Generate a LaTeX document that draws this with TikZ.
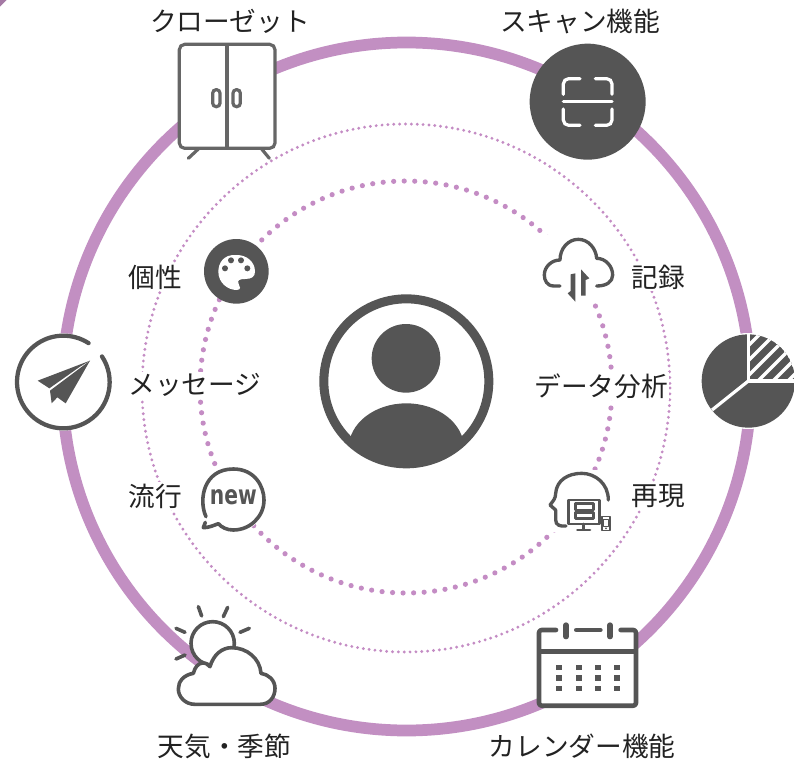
\documentclass[tikz,border=0pt]{standalone}
\usepackage{fontspec}
\setmainfont{Noto Sans CJK JP}
\newfontfamily\latinbold{DejaVu Sans}
\definecolor{ringc}{HTML}{C28FC2}
\definecolor{dotc}{HTML}{C48CC4}
\definecolor{iconc}{HTML}{555555}
\definecolor{closetc}{HTML}{666666}
\definecolor{textc}{HTML}{222222}
\tikzset{
 zoomed/.style 2 args={shift={(#1,#2)},x=0.25pt,y=-0.25pt},
 lbl/.style={text=textc,font=\fontsize{20}{24}\selectfont,inner sep=0pt},
 lblw/.style={lbl,fill=white,inner sep=1pt},
 ic/.style={draw=iconc,line cap=round,line join=round},
}
\begin{document}
\begin{tikzpicture}[x=0.75pt,y=-0.75pt]
\useasboundingbox (0,0) rectangle (794,764);
\clip (0,0) rectangle (794,764);
\fill[ringc!85!black] (0,0) -- (6.5,0) -- (0,6.5) -- cycle;
% rings
\draw[ringc,line width=8.8pt] (406.5,386.5) circle (344);
\draw[dotc,line width=2.4pt,line cap=round,dash pattern=on 0pt off 4.4pt] (406,388) circle (264);
\draw[dotc,line width=3.9pt,line cap=round,dash pattern=on 0pt off 7.9pt] (406,387) circle (206);
% labels
\node[lbl] (closetl) at (230,21) {クローゼット};
\node[lbl] (scanl) at (580,21) {スキャン機能};
\node[lblw] (kosei) at (155,277) {個性};
\node[lblw] (kiroku) at (658,277) {記録};
\node[lblw] (msg) at (195,385) {メッセージ};
\node[lblw] (data) at (601,386) {データ分析};
\node[lblw] (ryuko) at (155,496) {流行};
\node[lblw] (saigen) at (658,496) {再現};
\node[lbl] (tenki) at (224.5,746) {天気・季節};
\node[lbl] (cal) at (582,746) {カレンダー機能};
% person
\begin{scope}[zoomed={310}{285}]
 \fill[white] (289,289) circle (261);
 \begin{scope}
  \clip (289,289) circle (255);
  \fill[iconc] (289,490) ellipse (173 and 135);
 \end{scope}
 \draw[iconc,line width=6.75pt] (289,289) circle (247.5);
 \fill[iconc] (288,220) circle (103);
\end{scope}
% closet
\begin{scope}[zoomed={160}{0}]
 \draw[closetc,line width=2.4pt,rounded corners=4pt,fill=white] (58,133) rectangle (345,445);
 \draw[closetc,line width=2.4pt] (201,133) -- (201,445);
 \draw[closetc,line width=2.4pt,rounded corners=2.6pt] (158,269) rectangle (180,320);
 \draw[closetc,line width=2.4pt,rounded corners=2.6pt] (219,269) rectangle (241,320);
 \draw[closetc,line width=2.4pt,line cap=round] (115,447) -- (85,475);
 \draw[closetc,line width=2.4pt,line cap=round] (305,447) -- (328,475);
\end{scope}
% scan
\begin{scope}[zoomed={520}{40}]
 \fill[iconc] (203,185) circle (174);
 \begin{scope}[white,line width=2.4pt,line cap=round,rounded corners=4pt]
  \draw (180,116) -- (130,116) -- (130,163);
  \draw (226,116) -- (276,116) -- (276,163);
  \draw (180,256) -- (130,256) -- (130,207);
  \draw (226,256) -- (276,256) -- (276,207);
  \draw (130,185) -- (276,185);
 \end{scope}
\end{scope}
% palette
\begin{scope}[zoomed={190}{230}]
 \fill[iconc] (139,124) circle (97);
 \fill[white] (140,75) .. controls (100,72) and (85,100) .. (85,125) .. controls (85,160) and (115,180) .. (140,180) .. controls (155,180) and (150,168) .. (146,162) .. controls (140,150) and (150,147) .. (165,147) .. controls (185,147) and (195,140) .. (195,125) .. controls (195,95) and (170,75) .. (140,75) -- cycle;
 \fill[iconc] (123,91) circle (9) (153,91) circle (9) (105,115) circle (9) (172,115) circle (9);
\end{scope}
% cloud
\begin{scope}[zoomed={530}{225}]
 \fill[white] (30,30) rectangle (260,235);
 \draw[ic,line width=2.5pt] (90,183) -- (72,183) .. controls (50,183) and (43,165) .. (43,150) .. controls (43,125) and (65,105) .. (90,105) .. controls (90,70) and (115,43) .. (145,43) .. controls (175,43) and (198,70) .. (200,100) .. controls (228,100) and (248,125) .. (248,150) .. controls (248,170) and (230,183) .. (200,183);
 \fill[iconc] (122,148) -- (136,145) -- (136,230) -- (113,205) -- (122,198) -- cycle;
 \fill[iconc] (153,133) -- (178,160) -- (167,165) -- (167,212) -- (153,212) -- cycle;
\end{scope}
% plane
\begin{scope}[zoomed={0}{320}]
 \fill[white] (190,186) circle (146);
 \draw[ic,line width=3.2pt] (190,186) ++(-33.5:139) arc[start angle=-33.5,end angle=303,radius=139];
 \fill[iconc] (270,122) -- (113,182) -- (148,205) -- (240,140) -- cycle;
 \fill[iconc] (270,122) -- (150,212) -- (155,250) -- (172,232) -- (197,250) -- cycle;
\end{scope}
% pie
\begin{scope}[zoomed={690}{320}]
 \fill[white] (175,183) circle (144);
 \fill[iconc] (175,183) -- (175,43) arc[start angle=-90,end angle=-218.5,radius=140] -- cycle;
 \fill[iconc] (175,183) -- ++(141.5:140) arc[start angle=141.5,end angle=0,radius=140] -- cycle;
 \begin{scope}
  \clip (175,183) -- (175,43) arc[start angle=-90,end angle=0,radius=140] -- cycle;
  \fill[iconc] (175,183) circle (140);
  \foreach \s in {252,297,342,387,432,477}{
   \draw[white,line width=2.6pt] (165,\s-165) -- (330,\s-330);
  }
 \end{scope}
 \draw[white,line width=2.4pt] (175,183) -- (175,42);
 \draw[white,line width=2.4pt] (175,183) -- (330,183);
 \draw[white,line width=2.4pt] (175,183) -- (66,270);
\end{scope}
% new bubble
\begin{scope}[zoomed={190}{455}]
 \fill[white] (130,135) circle (98);
 \draw[ic,line width=2.7pt] (48,185) .. controls (25,135) and (40,42) .. (130,42) .. controls (195,42) and (222,95) .. (222,135) .. controls (222,185) and (180,225) .. (130,225) .. controls (110,225) and (95,217) .. (85,206) .. controls (70,212) and (55,218) .. (40,218) -- (46,202);
 \node[text=iconc,inner sep=0pt] (newtxt) at (130,128) {\latinbold\bfseries\fontsize{20}{24}\selectfont\scalebox{.76}[1]{new}};
\end{scope}
% head
\begin{scope}[zoomed={540}{460}]
 \fill[white] (25,30) rectangle (215,215);
 \draw[ic,line width=2.5pt] (205,120) .. controls (205,70) and (165,40) .. (125,40) .. controls (85,40) and (50,60) .. (47,100) .. controls (47,115) and (40,122) .. (30,135) -- (47,150) -- (47,180) .. controls (47,195) and (60,200) .. (78,198);
 \draw[ic,line width=2.2pt] (86,120) rectangle (178,192);
 \draw[ic,line width=1.8pt] (106,130) rectangle (160,150);
 \draw[ic,line width=1.8pt] (106,157) rectangle (160,175);
 \draw[ic,line width=2pt] (130,192) -- (130,208) (112,210) -- (150,210);
 \draw[ic,line width=1.2pt] (186,170) rectangle (210,212);
 \draw[ic,line width=.8pt] (191,178) rectangle (205,200);
 \fill[iconc] (198,205) circle (3);
\end{scope}
% sun and cloud
\begin{scope}[zoomed={160}{595}]
 \draw[ic,line width=2.7pt,fill=white] (158,145) circle (65);
 \draw[ic,line width=2.7pt] (115,35) -- (125,63) (203,37) -- (190,65) (48,100) -- (75,112) (240,112) -- (268,100) (48,192) -- (75,180);
 \draw[ic,line width=2.7pt,fill=white] (105,328) -- (300,328) .. controls (330,328) and (345,305) .. (345,280) .. controls (345,255) and (325,238) .. (303,235) .. controls (300,190) and (260,158) .. (215,158) .. controls (185,158) and (160,180) .. (150,215) .. controls (140,200) and (110,195) .. (100,235) .. controls (70,240) and (55,260) .. (55,282) .. controls (55,305) and (75,328) .. (105,328) -- cycle;
\end{scope}
% calendar
\begin{scope}[zoomed={525}{610}]
 \fill[white] (42,60) rectangle (333,287);
 \draw[iconc,line width=3.5pt,line cap=round,line join=round,rounded corners=2pt] (93,60) -- (42,60) -- (42,287) -- (333,287) -- (333,60) -- (287,60);
 \draw[iconc,line width=3.5pt,line cap=round] (154,60) -- (226,60);
 \draw[iconc,line width=3.5pt] (42,125) -- (333,125);
 \draw[iconc,line width=4pt,line cap=round] (123,45) -- (123,80) (255,45) -- (255,80);
 \foreach \px in {103,161,218,275}{\foreach \py in {172,204,236}{
  \fill[iconc] (\px-9,\py-8) rectangle (\px+9,\py+8);
 }}
\end{scope}
\end{tikzpicture}
\end{document}
